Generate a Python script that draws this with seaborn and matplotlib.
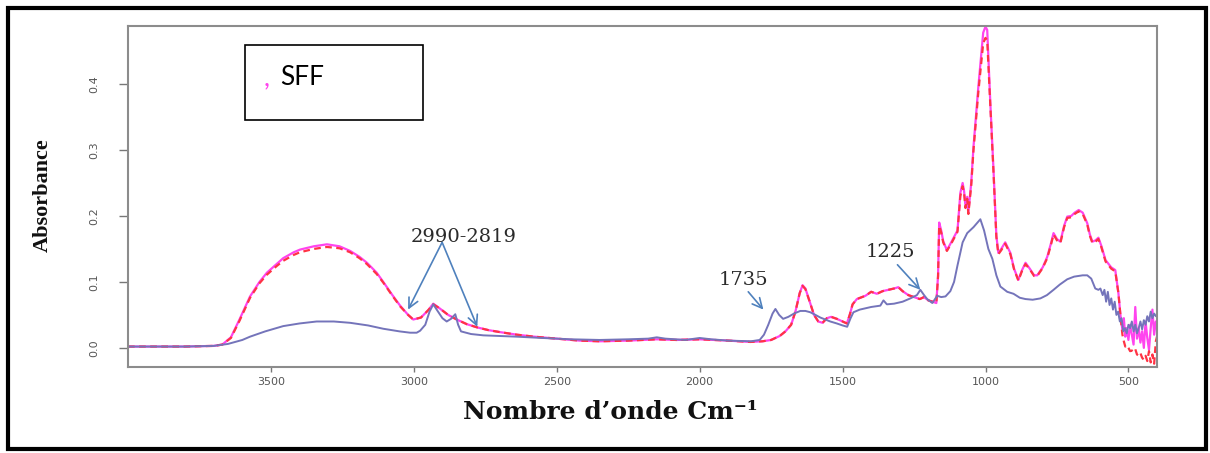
import matplotlib
matplotlib.use("Agg")
import matplotlib.pyplot as plt
from matplotlib.patches import Rectangle
import seaborn as sns

# FTIR spectra: wavenumber (cm-1) and absorbance
pink_wn = [4000, 3800, 3700, 3670, 3640, 3610, 3573, 3540, 3514, 3480, 3457, 3420,
           3398, 3350, 3304, 3260, 3223, 3190, 3164, 3130, 3107, 3075, 3048, 3020,
           3002, 2975, 2950, 2932, 2910, 2880, 2850, 2815, 2778, 2740, 2700, 2640,
           2580, 2500, 2420, 2350, 2250, 2150, 2080, 2000, 1900, 1823, 1780, 1750,
           1720, 1700, 1680, 1665, 1650, 1640, 1630, 1615, 1600, 1585, 1570, 1555,
           1540, 1520, 1500, 1485, 1475, 1465, 1450, 1420, 1400, 1380, 1360, 1340,
           1320, 1305, 1290, 1270, 1250, 1230, 1215, 1200, 1185, 1172, 1166, 1162,
           1155, 1148, 1135, 1120, 1098, 1088, 1080, 1075, 1070, 1064, 1060, 1050,
           1042, 1025, 1008, 1000, 994, 983, 972, 962, 955, 945, 931, 920, 913, 900,
           885, 872, 860, 845, 830, 819, 800, 784, 770, 762, 750, 738, 725, 714, 700,
           688, 674, 660, 644, 635, 626, 615, 605, 595, 580, 560, 546, 535, 528, 521,
           516, 511, 506, 500, 494, 488, 482, 476, 470, 464, 458, 452, 446, 440, 434,
           428, 422, 416, 410, 404, 400]
pink_abs = [0.002, 0.002, 0.003, 0.005, 0.016, 0.043, 0.078, 0.100, 0.114, 0.127, 0.136, 0.145,
            0.149, 0.154, 0.157, 0.154, 0.147, 0.138, 0.129, 0.114, 0.100, 0.080, 0.064, 0.050,
            0.043, 0.046, 0.057, 0.067, 0.060, 0.050, 0.043, 0.036, 0.031, 0.027, 0.024, 0.020,
            0.017, 0.014, 0.011, 0.010, 0.011, 0.013, 0.012, 0.013, 0.011, 0.009, 0.010, 0.012,
            0.018, 0.025, 0.035, 0.055, 0.083, 0.095, 0.090, 0.070, 0.050, 0.040, 0.038, 0.045,
            0.047, 0.044, 0.040, 0.037, 0.050, 0.066, 0.074, 0.079, 0.085, 0.082, 0.086, 0.088,
            0.090, 0.092, 0.086, 0.080, 0.077, 0.074, 0.077, 0.072, 0.070, 0.068, 0.110, 0.190,
            0.178, 0.162, 0.148, 0.160, 0.178, 0.235, 0.250, 0.238, 0.214, 0.229, 0.205, 0.250,
            0.305, 0.396, 0.478, 0.487, 0.482, 0.370, 0.270, 0.170, 0.144, 0.150, 0.160, 0.150, 0.144, 0.120,
            0.103, 0.118, 0.129, 0.120, 0.110, 0.110, 0.122, 0.138, 0.160, 0.174, 0.165, 0.161, 0.185, 0.199, 0.200,
            0.205, 0.209, 0.205, 0.189, 0.172, 0.161, 0.163, 0.167, 0.155, 0.133, 0.122, 0.118, 0.083, 0.050, 0.027,
            0.045, 0.017, 0.030, 0.012, 0.035, 0.020, 0.005, 0.062, 0.014, 0.030, 0.008, 0.025, 0.000, 0.040, 0.015,
            -0.003, 0.030, 0.058, 0.020, 0.040, 0.030]

red_wn = pink_wn
red_abs = [0.002, 0.002, 0.003, 0.005, 0.015, 0.041, 0.076, 0.098, 0.111, 0.124, 0.132, 0.141,
           0.145, 0.150, 0.153, 0.151, 0.145, 0.136, 0.127, 0.112, 0.099, 0.079, 0.063, 0.050,
           0.043, 0.046, 0.057, 0.066, 0.060, 0.050, 0.043, 0.036, 0.031, 0.027, 0.024, 0.020,
           0.017, 0.014, 0.011, 0.010, 0.011, 0.013, 0.012, 0.013, 0.011, 0.009, 0.010, 0.012,
           0.018, 0.025, 0.035, 0.055, 0.083, 0.094, 0.089, 0.070, 0.050, 0.040, 0.038, 0.045,
           0.047, 0.044, 0.040, 0.037, 0.050, 0.066, 0.074, 0.079, 0.085, 0.082, 0.086, 0.088,
           0.090, 0.092, 0.086, 0.080, 0.077, 0.074, 0.077, 0.072, 0.070, 0.068, 0.108, 0.185,
           0.175, 0.160, 0.147, 0.158, 0.176, 0.230, 0.245, 0.235, 0.212, 0.226, 0.203, 0.246,
           0.300, 0.388, 0.462, 0.470, 0.466, 0.365, 0.266, 0.168, 0.142, 0.148, 0.158, 0.148, 0.142, 0.119,
           0.102, 0.117, 0.127, 0.119, 0.109, 0.109, 0.121, 0.136, 0.158, 0.172, 0.163, 0.159, 0.183, 0.197, 0.198,
           0.203, 0.207, 0.203, 0.187, 0.170, 0.159, 0.161, 0.165, 0.153, 0.131, 0.120, 0.116, 0.083, 0.050, 0.020,
           0.010, 0.002, 0.004, 0.000, -0.005, -0.004, -0.006, -0.002, -0.010, -0.012, -0.008, -0.015, -0.018, -0.012, -0.020,
           -0.005, -0.022, -0.010, -0.024, 0.010, 0.017]

blue_wn = [4000, 3800, 3700, 3650, 3600, 3573, 3520, 3457, 3400, 3340, 3280, 3223,
           3160, 3107, 3050, 3013, 2990, 2978, 2960, 2945, 2932, 2920, 2900, 2885,
           2870, 2855, 2845, 2835, 2800, 2757, 2700, 2640, 2550, 2450, 2350, 2250,
           2180, 2150, 2120, 2050, 2000, 1960, 1900, 1820, 1790, 1775, 1760, 1745,
           1735, 1722, 1708, 1690, 1670, 1648, 1630, 1613, 1595, 1578, 1560, 1543,
           1520, 1500, 1484, 1472, 1462, 1440, 1400, 1368, 1357, 1345, 1320, 1290,
           1263, 1240, 1228, 1215, 1204, 1186, 1169, 1155, 1140, 1123, 1110, 1098,
           1080, 1064, 1042, 1018, 1005, 990, 976, 962, 948, 924, 902, 880, 860, 835,
           808, 785, 762, 740, 714, 690, 660, 644, 630, 616, 605, 598, 590, 584, 578,
           572, 566, 560, 554, 548, 542, 536, 530, 524, 518, 512, 506, 500, 494, 488,
           482, 476, 470, 464, 458, 452, 446, 440, 434, 428, 422, 416, 410, 404, 400]
blue_abs = [0.002, 0.002, 0.003, 0.006, 0.012, 0.017, 0.025, 0.033, 0.037, 0.040, 0.040, 0.038,
            0.034, 0.029, 0.025, 0.023, 0.023, 0.026, 0.035, 0.055, 0.066, 0.058, 0.045, 0.040,
            0.044, 0.051, 0.035, 0.025, 0.021, 0.019, 0.018, 0.017, 0.015, 0.013, 0.012, 0.013,
            0.014, 0.016, 0.014, 0.012, 0.015, 0.013, 0.011, 0.010, 0.012, 0.020, 0.035, 0.052,
            0.059, 0.050, 0.044, 0.047, 0.052, 0.056, 0.056, 0.054, 0.050, 0.046, 0.043, 0.040,
            0.037, 0.034, 0.032, 0.045, 0.054, 0.058, 0.062, 0.064, 0.072, 0.066, 0.067, 0.070,
            0.075, 0.080, 0.088, 0.080, 0.074, 0.068, 0.079, 0.077, 0.078, 0.086, 0.100, 0.125,
            0.160, 0.174, 0.183, 0.195, 0.178, 0.150, 0.135, 0.110, 0.093, 0.085, 0.082, 0.076, 0.074, 0.073,
            0.075, 0.080, 0.088, 0.096, 0.104, 0.108, 0.110, 0.110, 0.105, 0.090, 0.088, 0.090, 0.080, 0.088, 0.070,
            0.085, 0.065, 0.075, 0.058, 0.070, 0.050, 0.055, 0.040, 0.045, 0.025, 0.030, 0.022, 0.035, 0.030, 0.040,
            0.025, 0.035, 0.022, 0.030, 0.040, 0.028, 0.042, 0.035, 0.048, 0.040, 0.055, 0.045, 0.052, 0.048, 0.050]

x_ticks = [3500, 3000, 2500, 2000, 1500, 1000, 500]
y_ticks = [0.0, 0.1, 0.2, 0.3, 0.4]
y_tick_labels = ["0.0", "0.1", "0.2", "0.3", "0.4"]

sns.set_style("white")
plt.rcParams["font.family"] = ["DejaVu Sans"]

W, H = 1210, 453
fig = plt.figure(figsize=(W / 100, H / 100), dpi=100)
fig.patch.set_facecolor("white")


def fx(px):
    return px / W


def fy(py):
    return 1 - py / H


ax = fig.add_axes([fx(128), fy(367), (1157 - 128) / W, (367 - 26) / H])

sns.lineplot(x=pink_wn, y=pink_abs, ax=ax, color="#ff44ee", lw=1.6,
             estimator=None, sort=False)
sns.lineplot(x=red_wn, y=red_abs, ax=ax, color="#ff3344", lw=1.6,
             estimator=None, sort=False)
ax.lines[-1].set_dashes([3, 2])
sns.lineplot(x=blue_wn, y=blue_abs, ax=ax, color="#7474ba", lw=1.4,
             estimator=None, sort=False)

ax.set_xlim(4000, 400)
ax.set_ylim(-0.029, 0.488)
ax.set_xticks(x_ticks)
ax.set_xticklabels([str(t) for t in x_ticks])
ax.set_yticks(y_ticks)
ax.set_yticklabels(y_tick_labels, rotation=90, va="center")
ax.tick_params(axis="x", direction="out", length=3.5, width=1, color="#777777",
               labelsize=8, labelcolor="#555555", pad=4, bottom=True)
ax.tick_params(axis="y", direction="out", length=6.5, width=1, color="#777777",
               labelsize=8, labelcolor="#555555", pad=14, left=True)
for sp in ax.spines.values():
    sp.set_color("#8c8c8c")
    sp.set_linewidth(1.5)
ax.set_xlabel("")
ax.set_ylabel("")

# axis titles
fig.text(fx(610), fy(412), "Nombre d\u2019onde Cm\u207b\u00b9", ha="center", va="center",
         fontsize=18, fontweight="bold", family=["DejaVu Serif"], color="#111111")
fig.text(fx(43), fy(195), "Absorbance", ha="center", va="center", rotation=90,
         fontsize=16, fontweight="bold", family=["Liberation Serif"], color="#111111")

# band annotations
arrow_kw = dict(arrowstyle="->,head_length=0.7,head_width=0.35", color="#4f81bd", lw=1.2,
                shrinkA=0, shrinkB=0)
ax.annotate("", xy=(3020, 0.058), xytext=(2901, 0.160), arrowprops=arrow_kw)
ax.annotate("", xy=(2778, 0.032), xytext=(2901, 0.160), arrowprops=arrow_kw)
ax.annotate("", xy=(1777, 0.058), xytext=(1830, 0.085), arrowprops=arrow_kw)
ax.annotate("", xy=(1228, 0.088), xytext=(1308, 0.126), arrowprops=arrow_kw)
ann_kw = dict(ha="center", va="center", fontsize=14, family=["DejaVu Serif"], color="#2a2a2a")
ax.text(2824, 0.168, "2990-2819", **ann_kw)
ax.text(1847, 0.103, "1735", **ann_kw)
ax.text(1333, 0.145, "1225", **ann_kw)

# legend box
fig.patches.append(Rectangle((fx(245), fy(120)), 178 / W, 75 / H, transform=fig.transFigure,
                             fill=False, ec="black", lw=1.2))
fig.text(fx(264), fy(85), ",", ha="left", va="baseline", fontsize=19,
         family=["Lato"], color="#ff44ee")
fig.text(fx(280), fy(85), "SFF", ha="left", va="baseline", fontsize=19,
         family=["Lato"], color="black")

# outer frame
fig.patches.append(Rectangle((fx(8), fy(449)), (1206 - 8) / W, (449 - 8) / H,
                             transform=fig.transFigure, fill=False, ec="black", lw=3))

fig.savefig("out.png", dpi=100)
